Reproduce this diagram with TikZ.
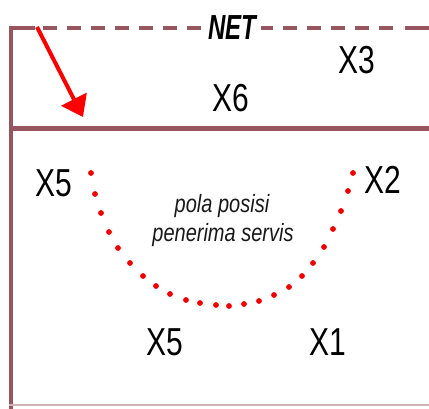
\documentclass[tikz,border=0pt]{standalone}
\usepackage{fontspec}
\usepackage{graphicx}
\setmainfont{Liberation Sans}
\usetikzlibrary{arrows.meta}
\definecolor{framec}{RGB}{150,85,95}
\definecolor{dotred}{RGB}{240,0,0}
\begin{document}
\begin{tikzpicture}[x=1pt,y=-1pt,
  frame/.style={draw=framec,line width=4.5pt},
  lbl/.style={inner sep=0pt,font=\fontsize{30}{36}\selectfont},
  note/.style={inner sep=0pt,font=\fontsize{20}{24}\selectfont\itshape,text=black!90},
  dotmark/.style={fill=dotred}]
\useasboundingbox (0,0) rectangle (429,408);
% frame
\draw[frame] (11,410) -- (11,28) -- (35,28);
\draw[frame, dash pattern=on 13.5pt off 10.5pt] (43,28) -- (403,28);
\draw[frame] (405,28) -- (429,28);
\draw[frame, line width=5pt] (11,128) -- (429,128);
\draw[framec!45, line width=2.5pt] (9,405) -- (429,405);
% NET label
\node[fill=white, inner xsep=5pt, inner ysep=0pt,
      font=\fontsize{24}{28}\selectfont\bfseries\itshape] (net) at (232,28) {\scalebox{1}[1.45]{NET}};
% arrow
\coordinate (arrS) at (37,27);
\coordinate (arrE) at (83,117);
\draw[red, line width=4pt, -{Triangle[length=20pt,width=28pt]}] (arrS) -- (arrE);
% labels
\node[lbl] (x3) at (357,60) {\scalebox{1}[1.3]{X3}};
\node[lbl] (x6) at (231,98) {\scalebox{1}[1.3]{X6}};
\node[lbl] (x5a) at (54,183) {\scalebox{1}[1.3]{X5}};
\node[lbl] (x2) at (383,180) {\scalebox{1}[1.3]{X2}};
\node[lbl] (x5b) at (165,342) {\scalebox{1}[1.3]{X5}};
\node[lbl] (x1) at (328,342) {\scalebox{1}[1.3]{X1}};
\node[note] (n1) at (222,206) {\scalebox{1}[1.25]{pola posisi}};
\node[note] (n2) at (223,235) {\scalebox{1}[1.25]{penerima servis}};
% dotted curve
\foreach \px/\py in {91/173,95/194,101/213,109/232,118/248,130/263,143/276,156/286,170/294,186/300,200/303,216/305,229/306,244/304,259/301,274/295,289/287,302/276,313/263,324/247,333/229,341/211,348/191,353/173}
  \fill[dotmark] (\px,\py) circle (2.9pt);
\end{tikzpicture}
\end{document}
